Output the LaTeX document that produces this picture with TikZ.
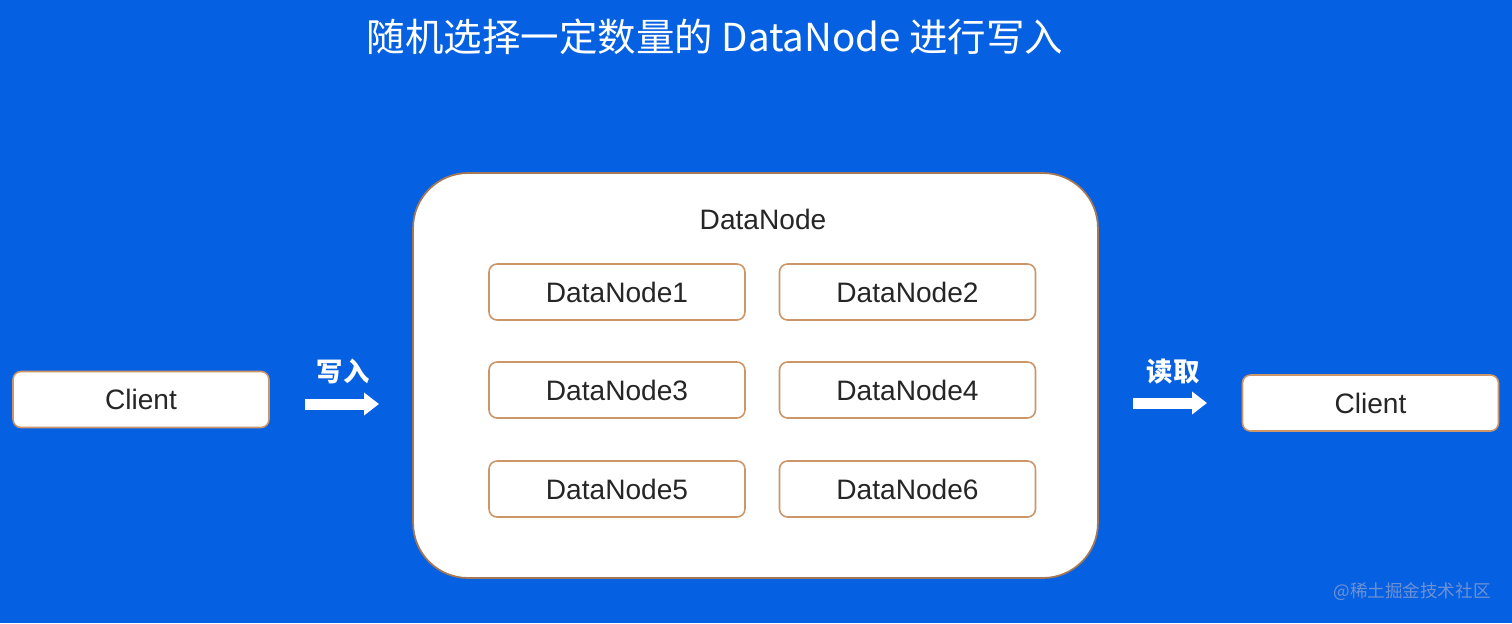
\documentclass[tikz,border=0pt]{standalone}
\usepackage{fontspec}
\setmainfont{Liberation Sans}
\newfontfamily\cjk{Noto Sans CJK SC}
\usepackage{tikz}
\usetikzlibrary{arrows.meta}
\definecolor{bgblue}{RGB}{6,96,226}
\definecolor{boxline}{RGB}{205,150,105}
\definecolor{txtgray}{RGB}{38,38,38}
\definecolor{markgray}{RGB}{110,145,212}

\begin{document}
\begin{tikzpicture}[x=0.02cm, y=-0.02cm,
    smallbox/.style={draw=boxline, line width=0.9pt, fill=white, rounded corners=0.16cm,
        minimum width=5.12cm, minimum height=1.12cm, inner sep=0pt,
        text=txtgray, font=\fontsize{16}{18}\selectfont},
    flowarrow/.style={white, line width=0.22cm, -{Triangle[length=0.3cm, width=0.44cm]}},
    flowlabel/.style={text=white, font=\cjk\bfseries\fontsize{15}{17}\selectfont}]
    \fill[bgblue] (0,0) rectangle (1512,623);
    \useasboundingbox (0,0) rectangle (1512,623);
    % title
    \node (title) at (715,37) [text=white, font=\cjk\fontsize{21.9}{26}\selectfont] {随机选择一定数量的 DataNode 进行写入};
    % outer DataNode box
    \node (dn) at (755.5,375.5) [draw=boxline!80!black, line width=1pt, fill=white, rounded corners=1.1cm,
        minimum width=13.7cm, minimum height=8.1cm] {};
    \node (dntitle) at (763,219) [text=txtgray, font=\fontsize{16}{18}\selectfont] {DataNode};
    \node (dn1) at (617,292) [smallbox] {DataNode1};
    \node (dn2) at (907.5,292) [smallbox] {DataNode2};
    \node (dn3) at (617,390) [smallbox] {DataNode3};
    \node (dn4) at (907.5,390) [smallbox] {DataNode4};
    \node (dn5) at (617,489) [smallbox] {DataNode5};
    \node (dn6) at (907.5,489) [smallbox] {DataNode6};
    % clients
    \node (writer) at (141,399.5) [smallbox] {Client};
    \node (reader) at (1370.5,403) [smallbox] {Client};
    % arrows
    \coordinate (w1) at (305,404);
    \coordinate (w2) at (379,404);
    \coordinate (r1) at (1133,403);
    \coordinate (r2) at (1207,403);
    \draw[flowarrow] (w1) -- (w2);
    \draw[flowarrow] (r1) -- (r2);
    \node (wlabel) at (343,371) [flowlabel] {写入};
    \node (rlabel) at (1173,372) [flowlabel] {读取};
    % watermark
    \node (mark) at (1412,592) [text=markgray, font=\cjk\fontsize{10}{12}\selectfont] {@稀土掘金技术社区};
\end{tikzpicture}
\end{document}
